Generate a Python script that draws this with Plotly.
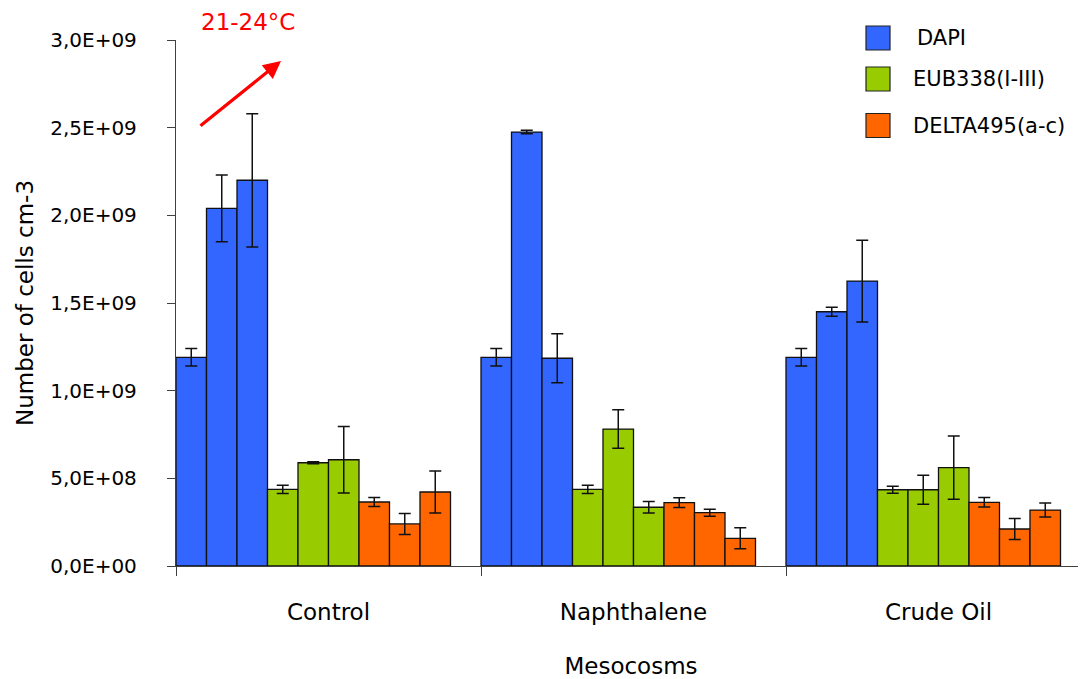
import plotly.graph_objects as go

# ---------------- data ----------------
categories = ["Control", "Naphthalene", "Crude Oil"]
series_names = ["DAPI", "EUB338(I-III)", "DELTA495(a-c)"]
series_colors = ["#3366FF", "#99CC00", "#FF6600"]

# three replicate bars per mesocosm, order: Control x3, Naphthalene x3, Crude Oil x3
dapi = [1.19e9, 2.04e9, 2.20e9, 1.19e9, 2.475e9, 1.185e9, 1.19e9, 1.45e9, 1.625e9]
dapi_err = [0.05e9, 0.19e9, 0.38e9, 0.05e9, 0.01e9, 0.14e9, 0.05e9, 0.026e9, 0.233e9]
eub = [0.437e9, 0.589e9, 0.606e9, 0.437e9, 0.781e9, 0.335e9, 0.435e9, 0.435e9, 0.561e9]
eub_err = [0.023e9, 0.006e9, 0.19e9, 0.023e9, 0.11e9, 0.033e9, 0.02e9, 0.083e9, 0.18e9]
delta = [0.365e9, 0.24e9, 0.422e9, 0.361e9, 0.304e9, 0.158e9, 0.363e9, 0.211e9, 0.319e9]
delta_err = [0.025e9, 0.06e9, 0.12e9, 0.028e9, 0.02e9, 0.06e9, 0.027e9, 0.06e9, 0.04e9]

y_tickvals = [0, 0.5e9, 1.0e9, 1.5e9, 2.0e9, 2.5e9, 3.0e9]
y_ticktext = ["0,0E+00", "5,0E+08", "1,0E+09", "1,5E+09", "2,0E+09", "2,5E+09", "3,0E+09"]

x_title = "Mesocosms"
y_title = "Number of cells cm-3"
temp_label = "21-24°C"

series_values = [dapi, eub, delta]
series_errors = [dapi_err, eub_err, delta_err]

# ---------------- layout helpers ----------------
PAGE_W, PAGE_H = 1086, 679
OFF = 8  # default body margin of the html page
PLOT_L, PLOT_R, PLOT_T, PLOT_B = 176, 1086, 40, 566  # plot area in page pixels
W, H = PAGE_W - OFF, PAGE_H - OFF
L = PLOT_L - OFF
T = PLOT_T - OFF
R = W - (PLOT_R - OFF)
B = H - (PLOT_B - OFF)
CAT_PX = 305.0
n_rep = 3
slot = 0.1  # each bar takes 1/10 of a category


def px_x(x):
    return (x - PLOT_L) / (PLOT_R - PLOT_L)


def px_y(y):
    return (PLOT_B - y) / (PLOT_B - PLOT_T)


FONT = "DejaVu Sans"

fig = go.Figure()
for s, (name, color, vals, errs) in enumerate(zip(series_names, series_colors,
                                                    series_values, series_errors)):
    xs = []
    for c in range(len(categories)):
        for j in range(n_rep):
            xs.append(c + (s * n_rep + j + 0.5) * slot)
    fig.add_trace(go.Bar(
        x=xs, y=vals, name=name, width=slot,
        marker=dict(color=color, line=dict(color="#111111", width=1.3)),
        error_y=dict(type="data", array=errs, visible=True,
                     color="#111111", thickness=1.5, width=6),
        showlegend=False,
    ))

x_max = (PLOT_R - PLOT_L) / CAT_PX

fig.update_layout(
    width=W, height=H,
    margin=dict(l=L, r=R, t=T, b=B, autoexpand=False),
    plot_bgcolor="white", paper_bgcolor="white",
    barmode="overlay",
    font=dict(family=FONT, size=20, color="#000000"),
    xaxis=dict(
        range=[0, x_max], showgrid=False, zeroline=False,
        showline=True, linecolor="#404040", linewidth=1.3,
        tickmode="array", tickvals=[c + 0.5 for c in range(len(categories))],
        ticktext=categories, ticks="", ticklabelstandoff=25,
        tickfont=dict(size=23),
        minor=dict(tickmode="array", tickvals=list(range(len(categories) + 1)),
                   ticks="outside", ticklen=9, tickwidth=1.3, tickcolor="#404040",
                   showgrid=False),
        title=dict(text=x_title, standoff=36, font=dict(size=23)),
        fixedrange=True,
    ),
    yaxis=dict(
        range=[0, 3.0e9], showgrid=False, zeroline=False,
        showline=True, linecolor="#404040", linewidth=1.3,
        tickmode="array", tickvals=y_tickvals, ticktext=y_ticktext,
        ticks="outside", ticklen=8, tickwidth=1.3, tickcolor="#404040",
        ticklabelstandoff=26, tickfont=dict(size=20),
        title=dict(text=y_title, standoff=10, font=dict(size=23)),
        fixedrange=True,
    ),
)

# manual legend with large swatches
legend_rows_y = [38, 79, 125.5]
legend_text_x = [915, 911, 911]
sw = 24
for name, color, cy, tx in zip(series_names, series_colors, legend_rows_y, legend_text_x):
    fig.add_shape(type="rect", xref="paper", yref="paper",
                  x0=px_x(866), x1=px_x(866 + sw),
                  y0=px_y(cy + sw / 2), y1=px_y(cy - sw / 2),
                  fillcolor=color, line=dict(color="#222222", width=1.2))
    fig.add_annotation(xref="paper", yref="paper", x=px_x(tx), y=px_y(cy),
                       text=name, showarrow=False, xanchor="left", yanchor="middle",
                       font=dict(size=21, family=FONT, color="#000000"))

# temperature arrow
fig.add_annotation(xref="paper", yref="paper", x=px_x(281), y=px_y(61),
                   axref="pixel", ayref="pixel", ax=-82, ay=66,
                   text="", showarrow=True, arrowhead=2, arrowsize=1.1,
                   arrowwidth=3.2, arrowcolor="#FF0000", standoff=0, startstandoff=0)
fig.add_annotation(xref="paper", yref="paper", x=px_x(248), y=px_y(22),
                   text=temp_label, showarrow=False, xanchor="center", yanchor="middle",
                   font=dict(size=23, family=FONT, color="#FF0000"))

fig.write_html("out.html")
